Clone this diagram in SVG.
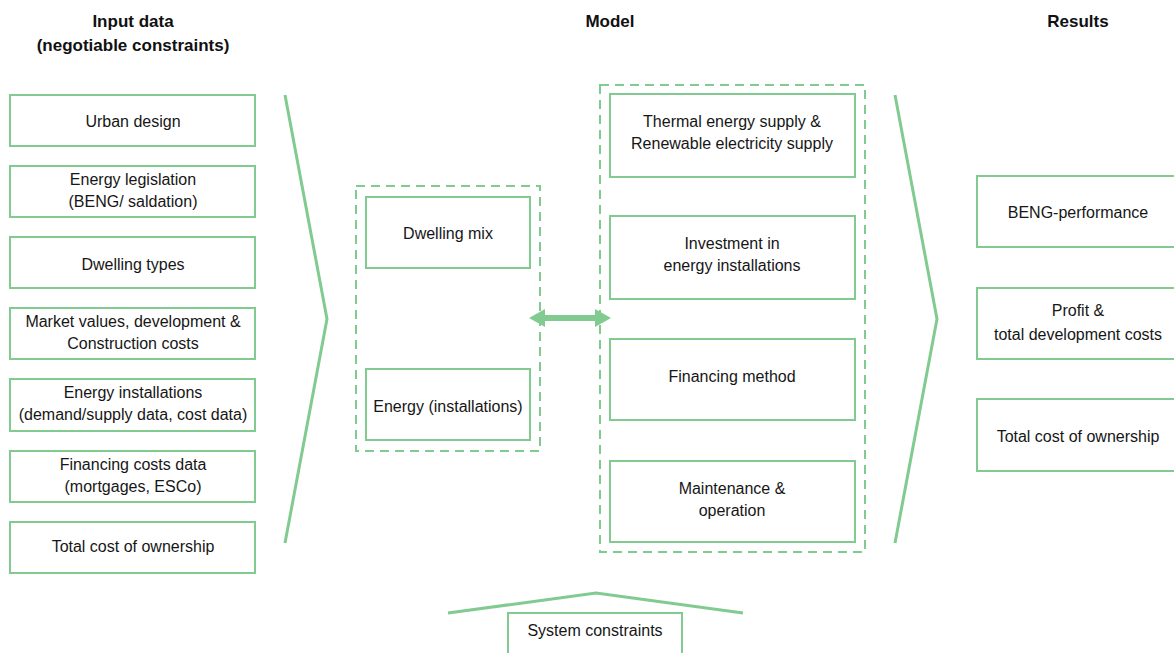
<svg xmlns="http://www.w3.org/2000/svg" width="1174" height="653" viewBox="0 0 1174 653">
  <defs>
    <style>
      .box { fill: #ffffff; stroke: #82cb90; stroke-width: 2; }
      .group { fill: none; stroke: #82cb90; stroke-width: 2; stroke-dasharray: 9 6; }
      .chev { fill: none; stroke: #82cb90; stroke-width: 3; stroke-linejoin: miter; }
      .lbl { font-family: "Liberation Sans", Arial, sans-serif; font-size: 16px; fill: #161616; text-anchor: middle; }
      .hdr { font-family: "Liberation Sans", Arial, sans-serif; font-size: 17px; font-weight: bold; fill: #111111; text-anchor: middle; }
    </style>
  </defs>
  <rect width="1174" height="653" fill="#ffffff"/>

  <!-- column headings -->
  <g id="headings">
    <text class="hdr" x="133" y="27">Input data</text>
    <text class="hdr" x="133" y="51">(negotiable constraints)</text>
    <text class="hdr" x="610" y="27">Model</text>
    <text class="hdr" x="1078" y="27">Results</text>
  </g>

  <!-- input data column -->
  <g id="in-urban-design">
    <rect class="box" x="10" y="95" width="245" height="51"/>
    <text class="lbl" x="133" y="127">Urban design</text>
  </g>
  <g id="in-energy-legislation">
    <rect class="box" x="10" y="166" width="245" height="51"/>
    <text class="lbl" x="133" y="185">Energy legislation</text>
    <text class="lbl" x="133" y="207">(BENG/ saldation)</text>
  </g>
  <g id="in-dwelling-types">
    <rect class="box" x="10" y="237" width="245" height="51"/>
    <text class="lbl" x="133" y="270">Dwelling types</text>
  </g>
  <g id="in-market-values">
    <rect class="box" x="10" y="308" width="245" height="51"/>
    <text class="lbl" x="133" y="327">Market values, development &amp;</text>
    <text class="lbl" x="133" y="349">Construction costs</text>
  </g>
  <g id="in-energy-installations">
    <rect class="box" x="10" y="379" width="245" height="52"/>
    <text class="lbl" x="133" y="398">Energy installations</text>
    <text class="lbl" x="133" y="420">(demand/supply data, cost data)</text>
  </g>
  <g id="in-financing-costs">
    <rect class="box" x="10" y="451" width="245" height="51"/>
    <text class="lbl" x="133" y="470">Financing costs data</text>
    <text class="lbl" x="133" y="492">(mortgages, ESCo)</text>
  </g>
  <g id="in-total-cost">
    <rect class="box" x="10" y="522" width="245" height="51"/>
    <text class="lbl" x="133" y="552">Total cost of ownership</text>
  </g>

  <!-- model: dwelling group -->
  <g id="grp-dwelling">
    <rect class="group" x="356" y="186" width="184" height="265"/>
  </g>
  <g id="m-dwelling-mix">
    <rect class="box" x="366" y="197" width="164" height="71"/>
    <text class="lbl" x="448" y="239">Dwelling mix</text>
  </g>
  <g id="m-energy-installations">
    <rect class="box" x="366" y="369" width="164" height="71"/>
    <text class="lbl" x="448" y="412">Energy (installations)</text>
  </g>

  <!-- model: supply and finance group -->
  <g id="grp-supply">
    <rect class="group" x="600" y="85" width="265" height="467"/>
  </g>
  <g id="m-thermal-supply">
    <rect class="box" x="610" y="94" width="245" height="83"/>
    <text class="lbl" x="732" y="127">Thermal energy supply &amp;</text>
    <text class="lbl" x="732" y="149">Renewable electricity supply</text>
  </g>
  <g id="m-investment">
    <rect class="box" x="610" y="216" width="245" height="83"/>
    <text class="lbl" x="732" y="249">Investment in</text>
    <text class="lbl" x="732" y="271">energy installations</text>
  </g>
  <g id="m-financing">
    <rect class="box" x="610" y="339" width="245" height="81"/>
    <text class="lbl" x="732" y="382">Financing method</text>
  </g>
  <g id="m-maintenance">
    <rect class="box" x="610" y="461" width="245" height="81"/>
    <text class="lbl" x="732" y="494">Maintenance &amp;</text>
    <text class="lbl" x="732" y="516">operation</text>
  </g>

  <!-- results column -->
  <g id="r-beng">
    <rect class="box" x="977" y="176" width="205" height="71"/>
    <text class="lbl" x="1078" y="218">BENG-performance</text>
  </g>
  <g id="r-profit">
    <rect class="box" x="977" y="288" width="205" height="71"/>
    <text class="lbl" x="1078" y="316">Profit &amp;</text>
    <text class="lbl" x="1078" y="340">total development costs</text>
  </g>
  <g id="r-total-cost">
    <rect class="box" x="977" y="399" width="205" height="72"/>
    <text class="lbl" x="1078" y="442">Total cost of ownership</text>
  </g>

  <!-- system constraints -->
  <g id="system-constraints">
    <rect class="box" x="508" y="613" width="174" height="45"/>
    <text class="lbl" x="595" y="636">System constraints</text>
  </g>

  <!-- connectors -->
  <g id="connectors">
    <polyline class="chev" points="285,95 327,319 285,543"/>
    <polyline class="chev" points="895,95 937,319 895,543"/>
    <polyline class="chev" points="448,613 596,593 743,613"/>
    <!-- two-way link between the model groups -->
    <path d="M529,318 L545,309 L545,315 L595,315 L595,309 L611,318 L595,327 L595,321 L545,321 L545,327 Z" fill="#82cb90"/>
  </g>
</svg>
